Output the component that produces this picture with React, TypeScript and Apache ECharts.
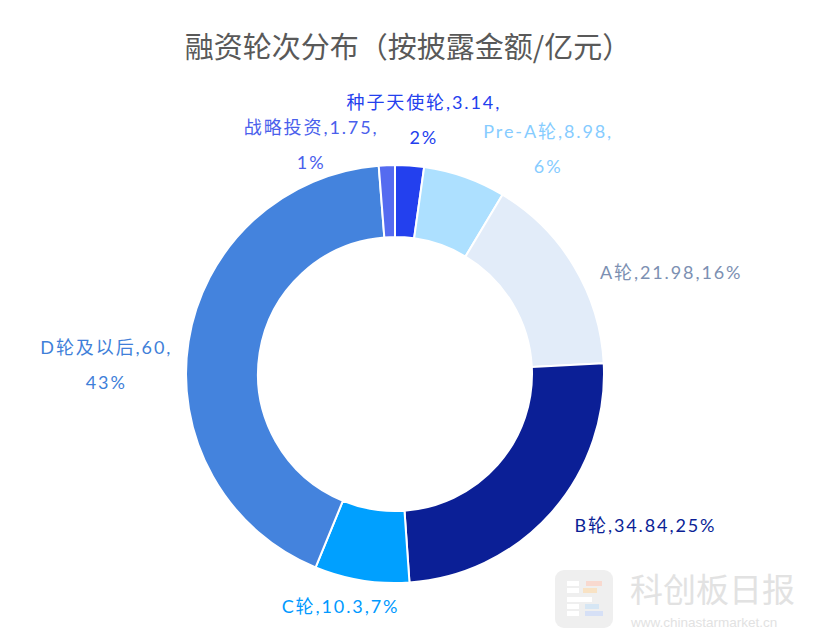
import React, { useEffect, useRef } from "react";
import * as echarts from "echarts";

const titleText = "融资轮次分布（按披露金额/亿元）";
const categories = ["种子天使轮", "Pre-A轮", "A轮", "B轮", "C轮", "D轮及以后", "战略投资"];
const amounts = [3.14, 8.98, 21.98, 34.84, 10.3, 60, 1.75];
const sliceColors = ["#2340EE", "#ADE0FF", "#E2ECF9", "#0B1F96", "#00A0FF", "#4483DD", "#556BF0"];
const labelColors = ["#2340EE", "#86CCFF", "#7C90B2", "#0B1F96", "#0099FF", "#3F7FD9", "#4A60EC"];

// label placement styling (not data)
const labelLineLen = [46, 30, 20, 18, 26, 10, 21];
const labelLineLen2 = [6, 15, 15, 16, 12, 10, 12];
const labelAlign = ["center", "left", "left", "left", "center", "right", "right"];
const labelShiftY = [0, 0, 16, 0, 0, 24, 0];

const LABEL_SIZE = 18;
const LETTER_SPACING = 1.9;
const LABEL_FAMILY = "Lato, 'Noto Sans CJK SC', sans-serif";

function measure(text: string): number {
  const c = document.createElement("canvas").getContext("2d");
  if (!c) return text.length * 10;
  c.font = `${LABEL_SIZE}px ${LABEL_FAMILY}`;
  return c.measureText(text).width + LETTER_SPACING * (text.length - 1);
}

export default function App() {
  const ref = useRef<HTMLDivElement>(null);
  useEffect(() => {
    if (!ref.current) return;
    const chart = echarts.init(ref.current, undefined, { renderer: "svg" });
    const data = categories.map((name, i) => ({
      name,
      value: amounts[i],
      itemStyle: { color: sliceColors[i] },
      label: { color: labelColors[i] },
      labelLine: { length: labelLineLen[i], length2: labelLineLen2[i] },
    }));
    chart.setOption({
      animation: false,
      backgroundColor: "#ffffff",
      title: {
        text: titleText,
        left: "center",
        top: 25,
        textStyle: {
          fontSize: 29,
          fontWeight: "normal",
          color: "#595959",
          fontFamily: "'Noto Sans CJK SC', sans-serif",
        },
      },
      graphic: [
        {
          type: "group",
          left: 555,
          top: 570,
          children: [
            { type: "rect", shape: { x: 0, y: 0, width: 58, height: 58, r: 9 }, style: { fill: "#EFEFEF" } },
            { type: "rect", shape: { x: 12, y: 11, width: 12, height: 5 }, style: { fill: "#FFFFFF" } },
            { type: "rect", shape: { x: 12, y: 18, width: 12, height: 5 }, style: { fill: "#FFFFFF" } },
            { type: "rect", shape: { x: 12, y: 27, width: 25, height: 5 }, style: { fill: "#FFFFFF" } },
            { type: "rect", shape: { x: 12, y: 34, width: 12, height: 5 }, style: { fill: "#FFFFFF" } },
            { type: "rect", shape: { x: 12, y: 41, width: 12, height: 5 }, style: { fill: "#FFFFFF" } },
            { type: "rect", shape: { x: 31, y: 11, width: 16, height: 5 }, style: { fill: "#F8D9CF" } },
            { type: "rect", shape: { x: 28, y: 18, width: 14, height: 5 }, style: { fill: "#F8E2C4" } },
            { type: "rect", shape: { x: 30, y: 34, width: 14, height: 5 }, style: { fill: "#D6E6F4" } },
            { type: "rect", shape: { x: 30, y: 41, width: 18, height: 5 }, style: { fill: "#D6E0F6" } },
          ],
        },
        {
          type: "text",
          left: 630,
          top: 571,
          style: {
            text: "科创板日报",
            fontSize: 33,
            fill: "#E2E2E2",
            fontFamily: "'Noto Sans CJK SC', sans-serif",
          },
        },
        {
          type: "text",
          left: 631,
          top: 615,
          style: {
            text: "www.chinastarmarket.cn",
            fontSize: 13.5,
            fill: "#E2E2E2",
            fontFamily: "'Liberation Sans', Arial, sans-serif",
          },
        },
      ],
      series: [
        {
          type: "pie",
          center: [395, 374],
          radius: [137, 209],
          startAngle: 90,
          clockwise: true,
          percentPrecision: 0,
          avoidLabelOverlap: false,
          itemStyle: { borderColor: "#ffffff", borderWidth: 2 },
          emphasis: { disabled: true },
          labelLine: { show: false },
          label: {
            show: true,
            position: "outside",
            distanceToLabelLine: 5,
            fontSize: LABEL_SIZE,
            fontFamily: LABEL_FAMILY,
            formatter: (p: any) => {
              const head = `${p.name},${p.value},`;
              const pct = `${Math.round(p.percent)}%`;
              const full = head + pct;
              if (measure(full) > 148) return `{a|${head}}\n{a|${pct}}`;
              return `{a|${full}}`;
            },
            rich: {
              a: { align: "center", fontSize: LABEL_SIZE, lineHeight: 35, fontFamily: LABEL_FAMILY },
            },
          },
          labelLayout: (params: any) => ({
            align: labelAlign[params.dataIndex],
            dy: labelShiftY[params.dataIndex],
          }),
          data,
        },
      ],
    });
    return () => chart.dispose();
  }, []);
  return (
    <>
      <style>{`
        .pie-host text[style*="Lato"], .pie-host text[font-family*="Lato"] { letter-spacing: ${LETTER_SPACING}px; }
      `}</style>
      <div
        ref={ref}
        className="pie-host"
        style={{ position: "absolute", left: 0, top: 0, width: 816, height: 643 }}
      />
    </>
  );
}
